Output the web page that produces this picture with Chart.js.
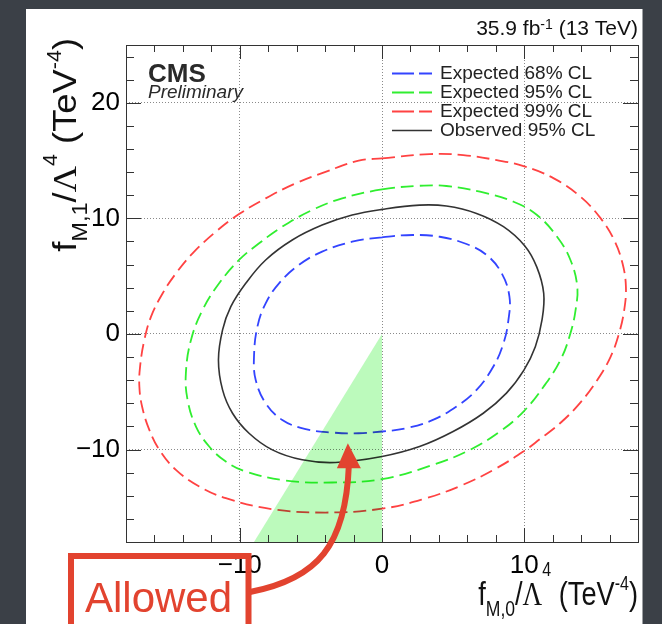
<!DOCTYPE html>
<html>
<head>
<meta charset="utf-8">
<script src="https://cdn.jsdelivr.net/npm/chart.js@4.4.0/dist/chart.umd.min.js"></script>
<style>
  html, body { margin: 0; padding: 0; background: #3b4047; }
  #chartLimites { display: block; }
</style>
</head>
<body>
<canvas id="chartLimites" width="662" height="624"></canvas>
<script>
// contornos: [fM0, fM1] en TeV^-4 (curvas cerradas, sentido horario)
const esperado68 = [[0, 8.36], [2.17, 8.56], [4.06, 8.41], [5.94, 7.78], [7.36, 6.83], [8.42, 5.24], [8.96, 3.23], [8.89, 1.21],
  [8.54, -0.81], [7.83, -2.82], [6.65, -4.84], [5.24, -6.28], [3.58, -7.44], [1.7, -8.16], [0, -8.44], [-1.64, -8.59],
  [-3.5, -8.53], [-5.37, -8.24], [-7.01, -7.44], [-8.18, -5.99], [-8.88, -3.98], [-9.0, -1.96], [-8.76, 0.63],
  [-8.18, 2.65], [-7.24, 4.38], [-5.84, 5.97], [-4.21, 7.12], [-2.1, 7.98]];

const esperado95 = [[0, 12.5], [2.64, 12.82], [4.53, 12.8], [6.89, 12.31], [9.25, 11.44], [10.9, 10.29], [12.31, 8.41],
  [13.25, 6.4], [13.73, 4.09], [13.61, 2.07], [13.25, 0.06], [12.55, -2.25], [11.37, -4.55], [9.95, -6.71], [8.3, -8.44],
  [6.18, -10.03], [3.58, -11.33], [0, -12.56], [-3.5, -12.85], [-6.78, -12.68], [-9.58, -11.9], [-10.98, -11.04],
  [-12.15, -9.74], [-13.08, -8.01], [-13.67, -5.71], [-13.79, -3.4], [-13.43, -0.52], [-12.62, 2.07], [-11.45, 4.38],
  [-10.05, 6.4], [-8.64, 7.84], [-7.01, 9.28], [-4.91, 10.72], [-2.8, 11.73]];

const esperado99 = [[0, 15.19], [3.35, 15.56], [5.71, 15.48], [8.07, 15.04], [9.95, 14.52], [12.08, 13.46], [13.96, 11.87],
  [15.38, 10.0], [16.32, 8.13], [16.91, 6.11], [17.15, 4.09], [17.03, 2.07], [16.67, 0.06], [16.08, -1.96], [15.14, -3.98],
  [13.9, -6.0], [12.5, -7.75], [11.1, -9.1], [9.94, -10.17], [8.0, -11.65], [5.6, -13.1], [3.0, -14.25], [0, -15.12],
  [-3.97, -15.45], [-7.71, -15.16], [-10.98, -14.21], [-12.85, -13.2], [-14.49, -11.76], [-15.65, -10.03], [-16.36, -8.3],
  [-16.87, -6.28], [-17.06, -4.55], [-17.01, -2.82], [-16.71, -0.52], [-16.24, 1.5], [-15.42, 3.52], [-14.49, 5.24],
  [-13.32, 6.97], [-11.68, 8.85], [-10.05, 10.37], [-8.18, 11.73], [-6.07, 13.03], [-3.97, 14.03], [-1.64, 14.99]];

const observado95 = [[0, 10.78], [2.64, 11.15], [4.53, 11.07], [6.65, 10.43], [8.54, 9.28], [10.03, 7.63], [10.88, 5.8],
  [11.37, 3.52], [11.25, 1.21], [10.78, -1.1], [9.98, -3.13], [8.75, -5.12], [7.12, -6.86], [5.0, -8.44], [2.64, -9.74],
  [0, -10.6], [-3.27, -11.12], [-5.61, -10.89], [-7.71, -10.03], [-9.35, -8.59], [-10.51, -6.86], [-11.21, -4.84],
  [-11.5, -2.25], [-11.21, 0.35], [-10.63, 2.36], [-9.58, 4.38], [-8.18, 6.4], [-6.31, 8.13], [-4.21, 9.42], [-2.1, 10.29]];

// region permitida (triangulo verde) y punta de la flecha
const regionPermitida = [[-9, -18], [0, 0]];
const flechaPunta = [-2.4, -9.45];

const etiquetas = ['Expected 68% CL', 'Expected 95% CL', 'Expected 99% CL', 'Observed 95% CL'];
const colores = ['#3344ff', '#30ee30', '#ff4242', '#333333'];

const xTicks = [-10, 0, 10];
const xTickLabels = ['\u221210', '0', '10'];
const yTicks = [-10, 0, 10, 20];
const yTickLabels = ['\u221210', '0', '10', '20'];
const xMinor = [-16, -14, -12, -8, -6, -4, -2, 2, 4, 6, 8, 12, 14, 16];
const yMinor = [-16, -14, -12, -8, -6, -4, -2, 2, 4, 6, 8, 12, 14, 16, 18, 22, 24];

const FUENTE = '"Liberation Sans", Arial, sans-serif';
const ROJO = '#e2432f';
const OCULTO = 'rgba(0,0,0,0)';

function aPuntos(arr){
    return arr.map(p => ({ x: p[0], y: p[1] }));
}

// para cerrar la curva sin esquina: se agrega un punto antes y otro despues,
// y esos dos tramos extra no se pintan
function cerrar(curva){
    const n = curva.length;
    return aPuntos([curva[n - 1], ...curva, curva[0], curva[1]]);
}

const datasets = [{
    label: 'Allowed',
    data: aPuntos(regionPermitida),
    showLine: true,
    borderWidth: 0,
    pointRadius: 0,
    backgroundColor: 'rgb(188, 250, 188)',
    fill: { value: -18 }
}];

[esperado68, esperado95, esperado99, observado95].forEach((curva, i) => {
    const n = curva.length;
    datasets.push({
        label: etiquetas[i],
        data: cerrar(curva),
        showLine: true,
        fill: false,
        pointRadius: 0,
        borderColor: colores[i],
        borderWidth: i === 3 ? 1.6 : 1.8,
        borderDash: i === 3 ? [] : [13, 6],
        tension: 0.4,
        segment: {
            borderColor: c => (c.p0DataIndex === 0 || c.p0DataIndex === n + 1) ? OCULTO : undefined
        }
    });
});

// texto con sub/superindices, alineado a la derecha en (x, y)
function textoRico(ctx, partes, x, y, ang, escalaX){
    ctx.save();
    ctx.translate(x, y);
    ctx.rotate(ang);
    ctx.scale(escalaX, 1);
    ctx.textBaseline = 'alphabetic';
    ctx.textAlign = 'left';
    let total = 0;
    partes.forEach(p => { ctx.font = p.f; total += ctx.measureText(p.t).width; });
    let cx = -total;
    partes.forEach(p => {
        ctx.font = p.f;
        ctx.fillText(p.t, cx, p.dy || 0);
        cx += ctx.measureText(p.t).width;
    });
    ctx.restore();
}

const fondo = {
    id: 'fondo',
    beforeDraw(chart){
        const ctx = chart.ctx;
        ctx.save();
        ctx.fillStyle = '#3b4047';
        ctx.fillRect(0, 0, chart.width, chart.height);
        ctx.fillStyle = '#ffffff';
        ctx.fillRect(26, 9, 616.5, chart.height);
        ctx.restore();
    }
};

// el triangulo verde se mezcla (multiply) sobre los contornos
const mezcla = {
    id: 'mezcla',
    afterDatasetDraw(chart, args){
        if(args.index === 1){
            chart.ctx.globalCompositeOperation = 'multiply';
        }
        if(args.index === 0){
            chart.ctx.globalCompositeOperation = 'source-over';
        }
    }
};

const marco = {
    id: 'marco',
    afterDatasetsDraw(chart){
        const ctx = chart.ctx;
        const a = chart.chartArea;
        const sx = chart.scales.x, sy = chart.scales.y;
        ctx.save();
        ctx.strokeStyle = '#333';
        ctx.lineWidth = 1;
        ctx.strokeRect(Math.round(a.left) + 0.5, Math.round(a.top) + 0.5, Math.round(a.right - a.left), Math.round(a.bottom - a.top));
        ctx.beginPath();
        const tx = (v, len) => {
            const px = Math.round(sx.getPixelForValue(v)) + 0.5;
            ctx.moveTo(px, a.bottom); ctx.lineTo(px, a.bottom - len);
            ctx.moveTo(px, a.top); ctx.lineTo(px, a.top + len);
        };
        const ty = (v, len) => {
            const py = Math.round(sy.getPixelForValue(v)) + 0.5;
            ctx.moveTo(a.left, py); ctx.lineTo(a.left + len, py);
            ctx.moveTo(a.right, py); ctx.lineTo(a.right - len, py);
        };
        xTicks.forEach(v => tx(v, 14));
        xMinor.forEach(v => tx(v, 7));
        yTicks.forEach(v => ty(v, 15));
        yMinor.forEach(v => ty(v, 8));
        ctx.stroke();
        ctx.restore();
    }
};

const leyendaYTextos = {
    id: 'leyendaYTextos',
    afterDraw(chart){
        const ctx = chart.ctx;
        const a = chart.chartArea;
        ctx.save();

        // leyenda
        ctx.font = '19px ' + FUENTE;
        ctx.textBaseline = 'middle';
        chart.data.datasets.slice(1).forEach((ds, i) => {
            const y = a.top + 28.5 + i * 19;
            ctx.strokeStyle = ds.borderColor;
            ctx.lineWidth = ds.borderWidth;
            ctx.setLineDash(ds.borderDash.length ? [22, 5] : []);
            ctx.beginPath();
            ctx.moveTo(a.left + 266, y);
            ctx.lineTo(a.left + 306, y);
            ctx.stroke();
            ctx.fillStyle = '#222';
            ctx.fillText(ds.label, a.left + 314, y);
        });
        ctx.setLineDash([]);

        // CMS Preliminary
        ctx.textBaseline = 'alphabetic';
        ctx.fillStyle = '#2a2a2a';
        ctx.font = 'bold 26px ' + FUENTE;
        ctx.fillText('CMS', a.left + 22, a.top + 37);
        ctx.font = 'italic 19px ' + FUENTE;
        ctx.fillText('Preliminary', a.left + 22, a.top + 53);

        ctx.fillStyle = '#111';
        // luminosidad
        textoRico(ctx, [
            { t: '35.9 fb', f: '21px ' + FUENTE },
            { t: '-1', f: '14px ' + FUENTE, dy: -6 },
            { t: ' (13 TeV)', f: '21px ' + FUENTE }
        ], a.right, 35, 0, 1);

        // titulos de ejes
        const serif = '"Liberation Serif", "Times New Roman", serif';
        const titulo = (sub, sup) => [
            { t: 'f', f: '34px ' + FUENTE },
            { t: sub, f: '22px ' + FUENTE, dy: 11 },
            { t: '/', f: '34px ' + FUENTE },
            { t: '\u039B', f: '34px ' + serif },
            { t: '4', f: '20px ' + FUENTE, dy: sup },
            { t: ' (TeV', f: '34px ' + FUENTE },
            { t: '-4', f: '20px ' + FUENTE, dy: -15 },
            { t: ')', f: '34px ' + FUENTE }
        ];
        textoRico(ctx, titulo('M,0', -29), a.right, 605, 0, 0.8);
        textoRico(ctx, titulo('M,1', -19), 76, 38, -Math.PI / 2, 1.07);

        // anotacion "Allowed"
        ctx.strokeStyle = ROJO;
        ctx.fillStyle = ROJO;
        ctx.lineWidth = 6;
        ctx.strokeRect(71, 556, 177.5, 90);
        ctx.font = '42px ' + FUENTE;
        ctx.fillText('Allowed', 85, 612);

        const px = chart.scales.x.getPixelForValue(flechaPunta[0]);
        const py = chart.scales.y.getPixelForValue(flechaPunta[1]);
        ctx.lineWidth = 6;
        ctx.beginPath();
        ctx.moveTo(250, 592);
        ctx.bezierCurveTo(318, 579, px - 2, 545, px + 1, py + 22);
        ctx.stroke();
        ctx.beginPath();
        ctx.moveTo(px, py);
        ctx.lineTo(px + 13, py + 25);
        ctx.lineTo(px - 11, py + 25);
        ctx.closePath();
        ctx.fill();

        ctx.restore();
    }
};

document.addEventListener('DOMContentLoaded', () => {
    const ctx = document.getElementById('chartLimites');

    new Chart(ctx, {
        type: 'scatter',
        data: { datasets: datasets },
        options: {
            responsive: false,
            animation: false,
            devicePixelRatio: 1,
            layout: { padding: { top: 45, right: 24, left: 0, bottom: 0 } },
            plugins: {
                legend: { display: false },
                tooltip: { enabled: false }
            },
            scales: {
                x: {
                    type: 'linear',
                    min: -18,
                    max: 18,
                    afterFit: s => { s.height = 82; },
                    afterBuildTicks: s => { s.ticks = xTicks.map(v => ({ value: v })); },
                    ticks: {
                        autoSkip: false,
                        maxRotation: 0,
                        padding: 8,
                        color: '#000',
                        font: { family: FUENTE, size: 26 },
                        callback: (v, i) => xTickLabels[i]
                    },
                    grid: { color: '#8a8a8a', lineWidth: 1, drawTicks: false },
                    border: { display: false, dash: [1, 2] }
                },
                y: {
                    type: 'linear',
                    min: -18,
                    max: 25,
                    afterFit: s => { s.width = 126; },
                    afterBuildTicks: s => { s.ticks = yTicks.map(v => ({ value: v })); },
                    ticks: {
                        autoSkip: false,
                        padding: 6,
                        color: '#000',
                        font: { family: FUENTE, size: 26 },
                        callback: (v, i) => yTickLabels[i]
                    },
                    grid: { color: '#8a8a8a', lineWidth: 1, drawTicks: false },
                    border: { display: false, dash: [1, 2] }
                }
            }
        },
        plugins: [fondo, mezcla, marco, leyendaYTextos]
    });
});
</script>
</body>
</html>
